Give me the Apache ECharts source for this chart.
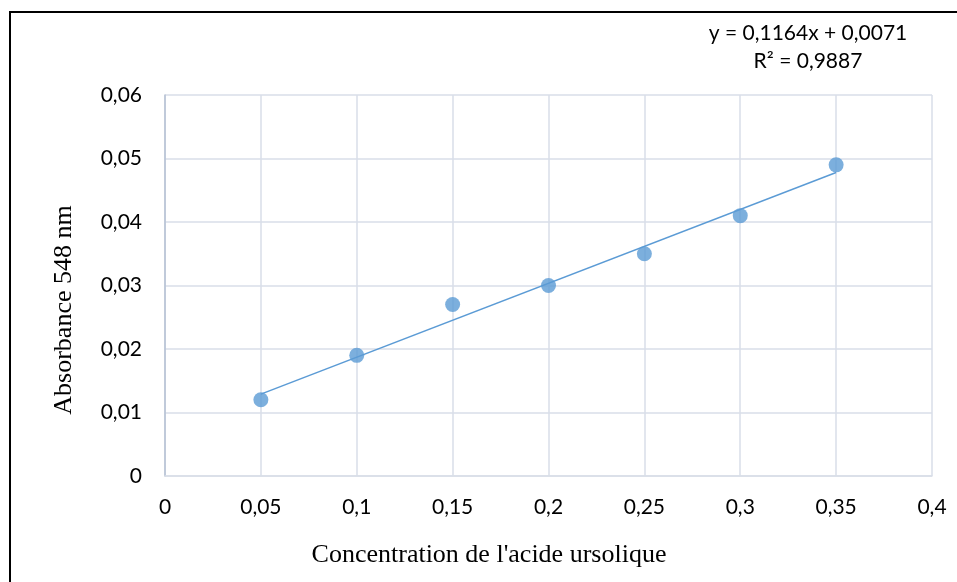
<!DOCTYPE html>
<html>
<head>
<meta charset="utf-8">
<script src="https://cdn.jsdelivr.net/npm/echarts@6/dist/echarts.min.js"></script>
<style>
  html, body { margin: 0; padding: 0; background: #fff; }
  #chart { width: 957px; height: 582px; }
</style>
</head>
<body>
<div id="chart"></div>
<script>
// data
const concentrations = [0.05, 0.1, 0.15, 0.2, 0.25, 0.3, 0.35];
const absorbances = [0.012, 0.019, 0.027, 0.030, 0.035, 0.041, 0.049];
// linear trend line ends (y = 0,1164x + 0,0071)
const trendX = [0.05, 0.35];
const trendY = [0.0129, 0.0478];
const equationText = ['y = 0,1164x + 0,0071', 'R² = 0,9887'];

const blue = '#5B9BD5';
const gridColor = '#D9DEE8';
const labelFont = 'Lato, "Open Sans", sans-serif';
const serifFont = '"Liberation Serif", "DejaVu Serif", serif';

const fmt = (v) => String(+v.toFixed(2)).replace('.', ',');

const chart = echarts.init(document.getElementById('chart'));

chart.setOption({
  animation: false,
  grid: { left: 165, right: 25, top: 95, bottom: 106 },
  graphic: [
    {
      type: 'rect',
      shape: { x: 10, y: 12, width: 960, height: 590 },
      style: { fill: 'none', stroke: '#000', lineWidth: 2 }
    },
    {
      type: 'text',
      x: 808, y: 33,
      style: {
        text: equationText[0], font: '21px ' + labelFont,
        fill: '#000', align: 'center', verticalAlign: 'middle'
      }
    },
    {
      type: 'text',
      x: 808, y: 61,
      style: {
        text: equationText[1], font: '21px ' + labelFont,
        fill: '#000', align: 'center', verticalAlign: 'middle'
      }
    },
    {
      // axis titles are not centred on the plot in the original
      type: 'text',
      x: 64, y: 310,
      rotation: Math.PI / 2,
      style: {
        text: 'Absorbance 548 nm', font: '26px ' + serifFont,
        fill: '#000', align: 'center', verticalAlign: 'middle'
      }
    },
    {
      type: 'text',
      x: 489, y: 555,
      style: {
        text: "Concentration de l'acide ursolique", font: '26px ' + serifFont,
        fill: '#000', align: 'center', verticalAlign: 'middle'
      }
    }
  ],
  xAxis: {
    type: 'value',
    min: 0,
    max: 0.4,
    interval: 0.05,
    axisLine: { show: true, lineStyle: { color: gridColor, width: 1.5 } },
    axisTick: { show: false },
    axisLabel: {
      margin: 21, fontSize: 21, fontFamily: labelFont, color: '#000',
      formatter: fmt
    },
    splitLine: { show: true, lineStyle: { color: gridColor, width: 1.5 } }
  },
  yAxis: {
    type: 'value',
    min: 0,
    max: 0.06,
    interval: 0.01,
    axisLine: { show: true, lineStyle: { color: '#B4C0D3', width: 1.5 } },
    axisTick: { show: false },
    axisLabel: {
      margin: 23, fontSize: 21, fontFamily: labelFont, color: '#000',
      formatter: fmt
    },
    splitLine: { show: true, lineStyle: { color: gridColor, width: 1.5 } }
  },
  series: [
    {
      type: 'line',
      data: trendX.map((x, i) => [x, trendY[i]]),
      symbol: 'none',
      lineStyle: { color: blue, width: 1.5 },
      z: 2
    },
    {
      type: 'scatter',
      data: concentrations.map((x, i) => [x, absorbances[i]]),
      symbol: 'circle',
      symbolSize: 15,
      itemStyle: { color: blue },
      z: 3
    }
  ]
});
</script>
</body>
</html>
